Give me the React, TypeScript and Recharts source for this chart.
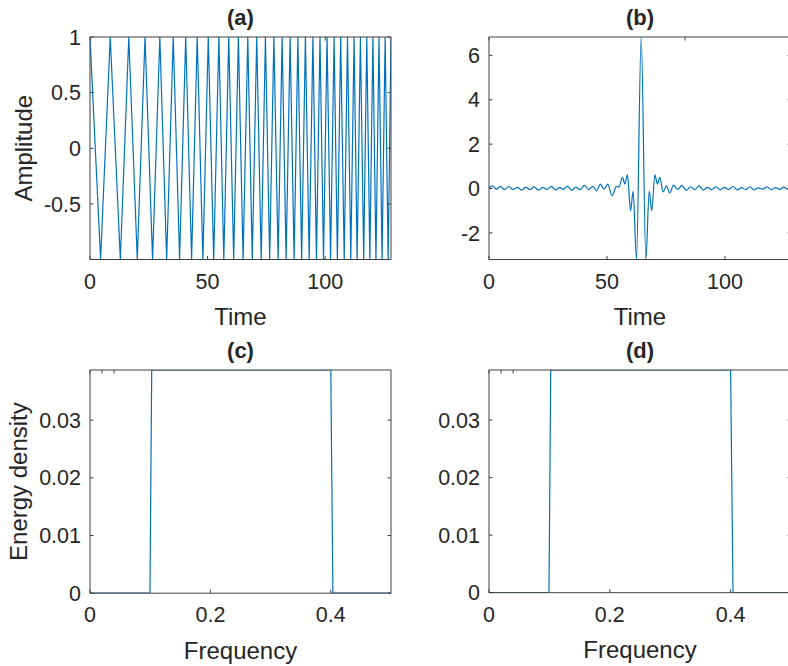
import React from 'react';
import { LineChart, Line, XAxis, YAxis } from 'recharts';

const BLUE = '#0072BD';
const INK = '#262626';
const FRAME = '#404040';
const FONT = '"Liberation Sans", Arial, Helvetica, sans-serif';
const TICK_FONT = 21.5;
const LABEL_FONT = 24;
const TITLE_FONT = 22;
const TICK_LEN = 3.5;
const X_GAP = 14;
const Y_GAP = 9;

// (a) linear chirp: times of the successive crests and troughs
const chirpPeakTimes = [
  0, 8.6, 16.5, 23.4, 29.7, 35.4, 40.7, 45.6, 50.3, 54.8, 59.0, 63.1, 67.1,
  70.9, 74.6, 78.2, 81.7, 85.1, 88.4, 91.6, 94.8, 97.8, 100.8, 103.8, 106.6,
  109.5, 112.3, 115.0, 117.7, 120.3, 122.9, 125.5, 128.0,
];
const chirpTroughTimes = [
  4.5, 12.9, 20.1, 26.6, 32.6, 38.1, 43.2, 48.0, 52.6, 56.9, 61.1, 65.1, 69.0,
  72.8, 76.4, 80.0, 83.4, 86.8, 90.0, 93.2, 96.3, 99.3, 102.3, 105.2, 108.1,
  110.9, 113.6, 116.4, 119.0, 121.6, 124.2, 126.8,
];
const chirpPeakLevel = 1;
const chirpTroughLevel = -1;

// (b) compressed pulse
const pulseTimes = [
  0, 1.5, 3.2, 4.8, 6.6, 8.4, 10.2, 12, 13.8, 15.6, 17.4, 19.2, 21, 22.8, 24.6,
  26.4, 28.2, 30, 31.6, 33.2, 35, 36.8, 38.6, 40.4, 42.2, 44, 45.6, 47.2, 48.8,
  50.3, 52.2, 54, 55, 56.6, 57.6, 58.7, 60.0, 61.1, 62.5, 64.5, 66.5, 67.9,
  69.0, 70.3, 71.4, 72.4, 73.8, 75.2, 76.6, 78.2, 80, 81.8, 83.6, 85.4, 87.2,
  89, 90.8, 92.6, 94.4, 96.2, 98, 99.8, 101.6, 103.4, 105.2, 107, 108.8, 110.6,
  112.4, 114.2, 116, 117.8, 119.6, 121.4, 123.2, 125, 126.6, 128,
];
const pulseValues = [
  0.03, 0.12, -0.03, 0.1, -0.05, 0.09, -0.04, 0.05, -0.07, 0.05, -0.05, 0.07,
  -0.07, 0.05, -0.04, 0.1, -0.06, 0.04, -0.04, 0.11, -0.08, 0.06, -0.06, 0.14,
  -0.05, 0.1, -0.1, 0.2, -0.03, 0.2, -0.32, 0.1, 0.05, 0.5, 0.2, 0.62, -1.0,
  -0.12, -3.2, 6.83, -3.2, -0.12, -1.0, 0.62, 0.2, 0.5, -0.15, 0.12, -0.2, 0.15,
  -0.04, 0.14, -0.08, 0.08, -0.05, 0.12, -0.07, 0.05, -0.05, 0.07, -0.06, 0.05,
  -0.04, 0.09, -0.06, 0.04, -0.05, 0.08, -0.06, 0.03, -0.03, 0.08, -0.05, 0.04,
  -0.04, 0.06, -0.03, 0.1, 0.02,
];

// (c) and (d) energy density spectra
const spectrumCFreqs = [0, 0.0996, 0.1025, 0.4, 0.4035, 0.5];
const spectrumCLevels = [0, 0, 0.0387, 0.0387, 0, 0];
const spectrumDFreqs = [0, 0.0993, 0.1022, 0.4, 0.404, 0.5];
const spectrumDLevels = [0, 0, 0.0387, 0.0387, 0, 0];

const timeTicks = [0, 50, 100];
const freqTicks = [0, 0.2, 0.4];
const chirpTicks = [-0.5, 0, 0.5, 1];
const pulseTicks = [-2, 0, 2, 4, 6];
const energyTicks = [0, 0.01, 0.02, 0.03];

type Pt = { x: number; y: number };

const chirpData: Pt[] = [
  ...chirpPeakTimes.map((t) => ({ x: t, y: chirpPeakLevel })),
  ...chirpTroughTimes.map((t) => ({ x: t, y: chirpTroughLevel })),
].sort((a, b) => a.x - b.x);

const pulseData: Pt[] = pulseTimes.map((t, i) => ({ x: t, y: pulseValues[i] }));
const spectrumC: Pt[] = spectrumCFreqs.map((f, i) => ({ x: f, y: spectrumCLevels[i] }));
const spectrumD: Pt[] = spectrumDFreqs.map((f, i) => ({ x: f, y: spectrumDLevels[i] }));

const fmt = (v: number) => String(v);

const textProps = { fill: INK, fontFamily: FONT };

function BottomTick(p: any) {
  const { x, y, payload } = p;
  const axisY = y - X_GAP;
  return (
    <g>
      <line x1={x} x2={x} y1={axisY} y2={axisY - TICK_LEN} stroke={FRAME} strokeWidth={1} />
      <text x={x} y={y} dy="0.71em" textAnchor="middle" fontSize={TICK_FONT} {...textProps}>
        {fmt(payload.value)}
      </text>
    </g>
  );
}

function TopTick(p: any) {
  const { x, y } = p;
  return <line x1={x} x2={x} y1={y} y2={y + TICK_LEN} stroke={FRAME} strokeWidth={1} />;
}

function LeftTick(p: any) {
  const { x, y, payload } = p;
  const axisX = x + Y_GAP;
  return (
    <g>
      <line x1={axisX} x2={axisX + TICK_LEN} y1={y} y2={y} stroke={FRAME} strokeWidth={1} />
      <text x={x} y={y} dy="0.355em" textAnchor="end" fontSize={TICK_FONT} {...textProps}>
        {fmt(payload.value)}
      </text>
    </g>
  );
}

function RightTick(p: any) {
  const { x, y } = p;
  return <line x1={x} x2={x - TICK_LEN} y1={y} y2={y} stroke={FRAME} strokeWidth={1} />;
}

type PanelProps = {
  left: number;
  top: number;
  plotW: number;
  plotH: number;
  data: Pt[];
  xDomain: [number, number];
  yDomain: [number, number];
  xTicks: number[];
  yTicks: number[];
  title: string;
  xLabel: string;
  yLabel?: string;
  yLabelX?: number;
  curve: 'linear' | 'monotone';
};

const ML = 10;
const YW = 80;
const MT = 36;
const TH = 1;
const MR = 9;
const RW = 1;
const XH = 70;
const MB = 5;

function Panel(p: PanelProps) {
  const width = ML + YW + p.plotW + RW + MR;
  const height = MT + TH + p.plotH + XH + MB;
  const yLabel = p.yLabel
    ? {
        value: p.yLabel,
        angle: -90,
        position: 'insideLeft' as const,
        offset: (p.yLabelX ?? 20) - (p.left - YW),
        fontSize: LABEL_FONT,
        ...textProps,
        style: { textAnchor: 'middle' },
      }
    : undefined;
  return (
    <div style={{ position: 'absolute', left: p.left - ML - YW, top: p.top - MT - TH }}>
      <LineChart
        width={width}
        height={height}
        data={p.data}
        margin={{ top: MT, right: MR, bottom: MB, left: ML }}
      >
        <XAxis
          dataKey="x"
          type="number"
          domain={p.xDomain}
          ticks={p.xTicks}
          allowDataOverflow
          interval={0}
          tickSize={0}
          tickMargin={X_GAP}
          tickLine={false}
          axisLine={{ stroke: FRAME, strokeWidth: 1 }}
          height={XH}
          tick={BottomTick}
          label={{
            value: p.xLabel,
            position: 'insideBottom',
            offset: 4.5,
            fontSize: LABEL_FONT,
            ...textProps,
          }}
        />
        <XAxis
          xAxisId="top"
          orientation="top"
          type="number"
          domain={p.xDomain}
          ticks={p.xTicks}
          allowDataOverflow
          interval={0}
          tickSize={0}
          tickMargin={0}
          tickLine={false}
          axisLine={{ stroke: FRAME, strokeWidth: 1 }}
          height={TH}
          tick={TopTick}
          label={{
            value: p.title,
            position: 'top',
            offset: 11,
            fontSize: TITLE_FONT,
            fontWeight: 'bold',
            ...textProps,
          }}
        />
        <YAxis
          type="number"
          domain={p.yDomain}
          ticks={p.yTicks}
          allowDataOverflow
          interval={0}
          tickSize={0}
          tickMargin={Y_GAP}
          tickLine={false}
          axisLine={{ stroke: FRAME, strokeWidth: 1 }}
          width={YW}
          tick={LeftTick}
          label={yLabel}
        />
        <YAxis
          yAxisId="right"
          orientation="right"
          type="number"
          domain={p.yDomain}
          ticks={p.yTicks}
          allowDataOverflow
          interval={0}
          tickSize={0}
          tickMargin={0}
          tickLine={false}
          axisLine={{ stroke: FRAME, strokeWidth: 1 }}
          width={RW}
          tick={RightTick}
        />
        <Line
          dataKey="y"
          type={p.curve}
          stroke={BLUE}
          strokeWidth={1.2}
          dot={false}
          activeDot={false}
          isAnimationActive={false}
        />
      </LineChart>
    </div>
  );
}

export default function App() {
  return (
    <div
      style={{
        position: 'absolute',
        left: 0,
        top: 0,
        width: 788,
        height: 666,
        overflow: 'hidden',
        background: '#ffffff',
      }}
    >
      <Panel
        left={90}
        top={37}
        plotW={301}
        plotH={222.5}
        data={chirpData}
        xDomain={[0, 128]}
        yDomain={[-1, 1]}
        xTicks={timeTicks}
        yTicks={chirpTicks}
        title="(a)"
        xLabel="Time"
        yLabel="Amplitude"
        yLabelX={23}
        curve="linear"
      />
      <Panel
        left={489}
        top={37}
        plotW={302}
        plotH={222.5}
        data={pulseData}
        xDomain={[0, 128]}
        yDomain={[-3.2, 6.83]}
        xTicks={timeTicks}
        yTicks={pulseTicks}
        title="(b)"
        xLabel="Time"
        curve="monotone"
      />
      <Panel
        left={90}
        top={369.5}
        plotW={301}
        plotH={223.2}
        data={spectrumC}
        xDomain={[0, 0.5]}
        yDomain={[0, 0.0387]}
        xTicks={freqTicks}
        yTicks={energyTicks}
        title="(c)"
        xLabel="Frequency"
        yLabel="Energy density"
        yLabelX={18.5}
        curve="linear"
      />
      <Panel
        left={489}
        top={370}
        plotW={302}
        plotH={222.7}
        data={spectrumD}
        xDomain={[0, 0.5]}
        yDomain={[0, 0.0387]}
        xTicks={freqTicks}
        yTicks={energyTicks}
        title="(d)"
        xLabel="Frequency"
        curve="linear"
      />
    </div>
  );
}
